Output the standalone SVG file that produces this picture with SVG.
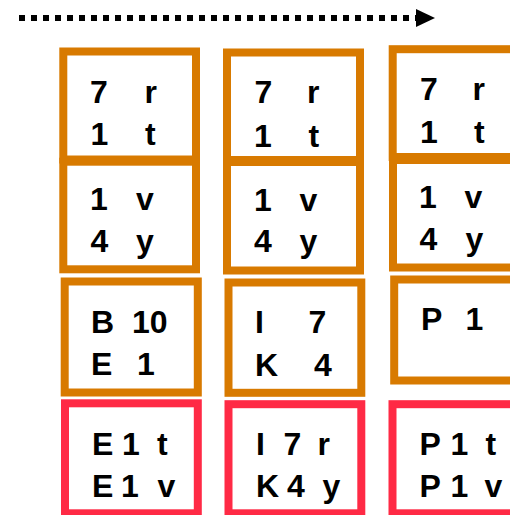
<svg xmlns="http://www.w3.org/2000/svg" width="510" height="515" viewBox="0 0 510 515">
<style>
.o{fill:none;stroke:#d87a00;stroke-width:8}
.r{fill:none;stroke:#ff2a45;stroke-width:8}
text{font-family:"Liberation Sans",Arial,sans-serif;font-weight:bold;font-size:32px;fill:#000}
.arrow{stroke:#000;stroke-width:6;stroke-dasharray:6 6;fill:none}
</style>
<defs>
<marker id="ah" markerUnits="userSpaceOnUse" markerWidth="20" markerHeight="20" refX="0" refY="9" orient="auto">
<path d="M0,0 L19,9 L0,18 Z" fill="#000"/>
</marker>
</defs>
<rect width="510" height="515" fill="#fff"/>
<g id="connectors">
<line class="arrow" x1="19" y1="18" x2="416" y2="18" marker-end="url(#ah)"/>
</g>
<g id="c1r1"><rect class="o" x="63.3" y="51.5" width="132.7" height="108"/>
<text><tspan x="90" y="103.3">7</tspan><tspan x="144.5" y="103.3">r</tspan><tspan x="90.5" y="145">1</tspan><tspan x="145" y="145">t</tspan></text></g>
<g id="c2r1"><rect class="o" x="227" y="52.5" width="133" height="107.5"/>
<text><tspan x="254.5" y="103.3">7</tspan><tspan x="307" y="103.3">r</tspan><tspan x="254" y="146.5">1</tspan><tspan x="308.5" y="146.5">t</tspan></text></g>
<g id="c3r1"><rect class="o" x="392.7" y="49.2" width="133" height="107.8"/>
<text><tspan x="420" y="100">7</tspan><tspan x="472.5" y="100">r</tspan><tspan x="420" y="142.7">1</tspan><tspan x="474" y="142.7">t</tspan></text></g>
<g id="c1r2"><rect class="o" x="63.3" y="161.7" width="132.7" height="107.6"/>
<text><tspan x="90" y="210">1</tspan><tspan x="136" y="210">v</tspan><tspan x="90.5" y="251.7">4</tspan><tspan x="136" y="251.7">y</tspan></text></g>
<g id="c2r2"><rect class="o" x="227" y="162" width="133" height="108.5"/>
<text><tspan x="254" y="211">1</tspan><tspan x="299.5" y="211">v</tspan><tspan x="254" y="251.7">4</tspan><tspan x="299.5" y="251.7">y</tspan></text></g>
<g id="c3r2"><rect class="o" x="393" y="160" width="133" height="107.5"/>
<text><tspan x="419" y="208.3">1</tspan><tspan x="464.5" y="208.3">v</tspan><tspan x="419.5" y="250">4</tspan><tspan x="465.5" y="250">y</tspan></text></g>
<g id="c1r3"><rect class="o" x="64.7" y="281.5" width="133.1" height="111"/>
<text><tspan x="91" y="332.7">B</tspan><tspan x="132" y="332.7">10</tspan><tspan x="91" y="375">E</tspan><tspan x="137" y="375">1</tspan></text></g>
<g id="c2r3"><rect class="o" x="228.5" y="282.5" width="132.8" height="110.3"/>
<text><tspan x="255" y="333.3">I</tspan><tspan x="308.5" y="333.3">7</tspan><tspan x="255" y="376">K</tspan><tspan x="314" y="376">4</tspan></text></g>
<g id="c3r3"><rect class="o" x="394.2" y="279.5" width="133" height="101"/>
<text><tspan x="421" y="330">P</tspan><tspan x="465.5" y="330">1</tspan></text></g>
<g id="c1r4"><rect class="r" x="65" y="403.3" width="132.8" height="110"/>
<text><tspan x="92" y="455">E</tspan><tspan x="122" y="455">1</tspan><tspan x="157" y="455">t</tspan><tspan x="92" y="497.3">E</tspan><tspan x="121" y="497.3">1</tspan><tspan x="157.5" y="497.3">v</tspan></text></g>
<g id="c2r4"><rect class="r" x="228.5" y="404.2" width="132.8" height="109.1"/>
<text><tspan x="256" y="455">I</tspan><tspan x="283.5" y="455">7</tspan><tspan x="317.5" y="455">r</tspan><tspan x="256" y="497.3">K</tspan><tspan x="287" y="497.3">4</tspan><tspan x="322.5" y="497.3">y</tspan></text></g>
<g id="c3r4"><rect class="r" x="392.5" y="404.2" width="133" height="109.1"/>
<text><tspan x="419.5" y="455">P</tspan><tspan x="450.5" y="455">1</tspan><tspan x="485.5" y="455">t</tspan><tspan x="419.5" y="497.3">P</tspan><tspan x="450.5" y="497.3">1</tspan><tspan x="484.5" y="497.3">v</tspan></text></g>
</svg>
